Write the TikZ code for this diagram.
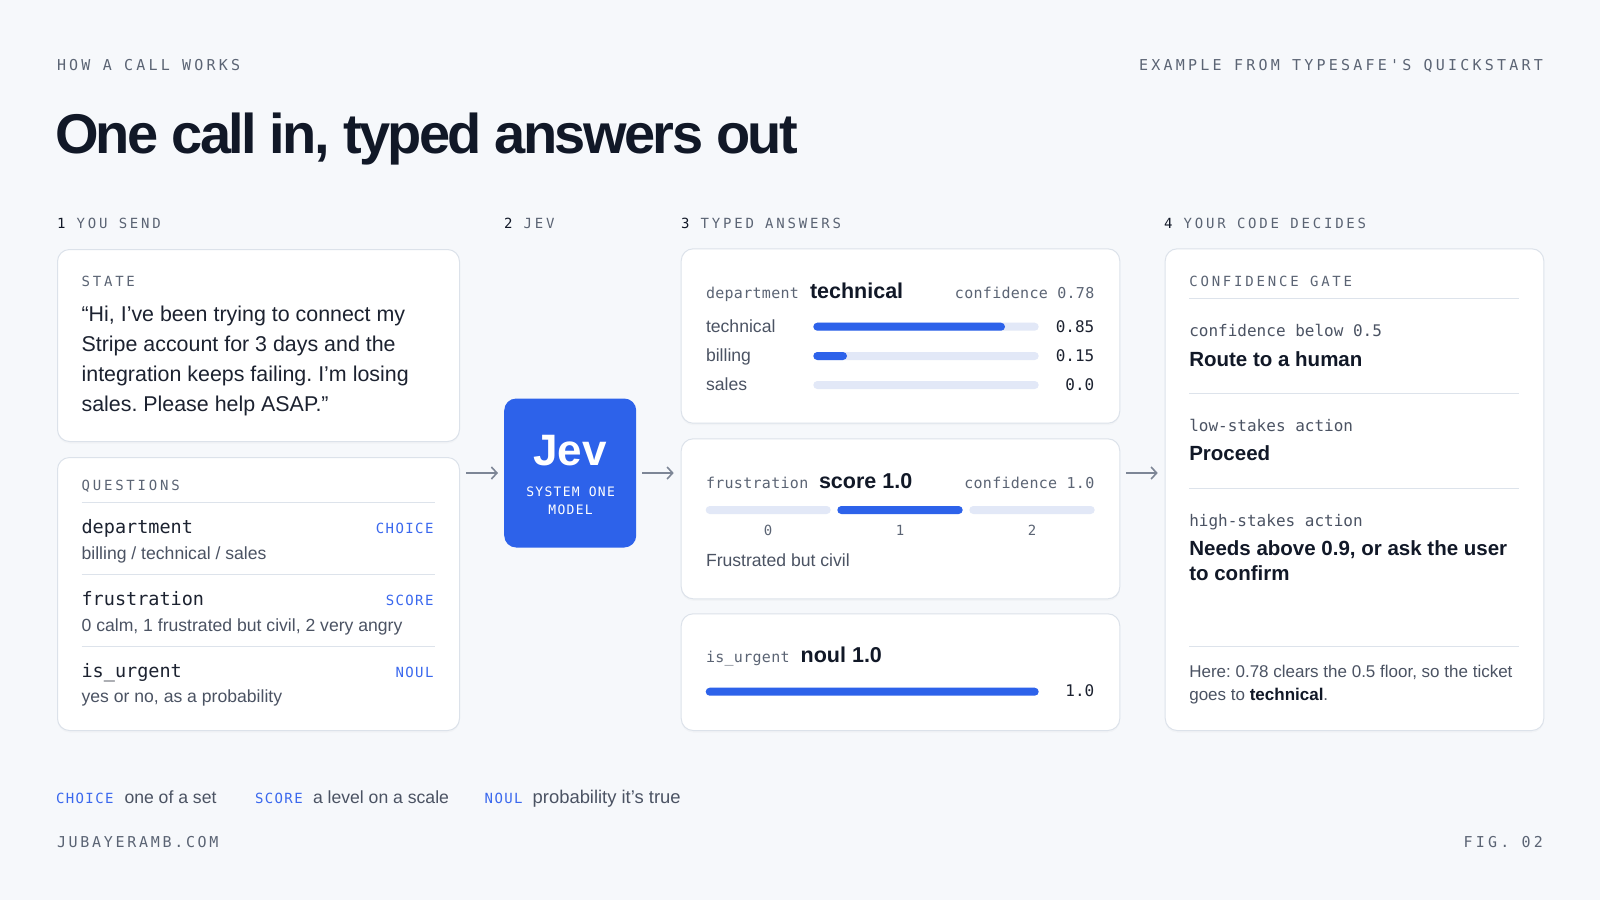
\documentclass[tikz,border=0pt]{standalone}
\usepackage{fontspec}
\setmainfont{Liberation Sans}
\newfontfamily\titlef[LetterSpace=-4.7]{Liberation Sans}
\newfontfamily\monoW[LetterSpace=21.5,Ligatures=TeXOff]{DejaVu Sans Mono}
\newfontfamily\monoF[LetterSpace=18,Ligatures=TeXOff]{DejaVu Sans Mono}
\newfontfamily\monoSec[LetterSpace=20,Ligatures=TeXOff]{DejaVu Sans Mono}
\newfontfamily\monoTag[LetterSpace=10,Ligatures=TeXOff]{DejaVu Sans Mono}
\newfontfamily\monoT[LetterSpace=2,Ligatures=TeXOff]{DejaVu Sans Mono}
\newfontfamily\monoN[Ligatures=TeXOff]{DejaVu Sans Mono}
\usetikzlibrary{shadows,arrows.meta}
\newcommand\fs[1]{\fontsize{#1}{#1}\selectfont}
\definecolor{bg}{HTML}{F6F8FB}
\definecolor{ink}{HTML}{111827}
\definecolor{txtdark}{HTML}{1C2230}
\definecolor{graylab}{HTML}{5B6474}
\definecolor{graytxt}{HTML}{4B5363}
\definecolor{rulec}{HTML}{DDE3EB}
\definecolor{cardline}{HTML}{DCE2EA}
\definecolor{accentblue}{HTML}{2D62EA}
\definecolor{tagblue}{HTML}{3A68EE}
\definecolor{track}{HTML}{E2E8F7}
\definecolor{arrowgray}{HTML}{7D8696}
\frenchspacing
\begin{document}
\begin{tikzpicture}[x=1pt,y=-1pt,
  txt/.style={anchor=base west,inner sep=0pt,outer sep=0pt},
  txtr/.style={anchor=base east,inner sep=0pt,outer sep=0pt},
  txtc/.style={anchor=base,inner sep=0pt,outer sep=0pt},
  card/.style={anchor=north west,draw=cardline,line width=1pt,fill=white,rounded corners=12pt,inner sep=0pt,
    drop shadow={shadow xshift=0pt,shadow yshift=-2pt,opacity=0.04}},
  kick/.style={font=\monoW\fs{15},text=graylab},
  sec/.style={font=\monoSec\fs{14},text=graylab},
  field/.style={font=\monoN\fs{18.5},text=txtdark},
  tag/.style={font=\monoTag\fs{14},text=tagblue},
  desc/.style={font=\frenchspacing\fs{17.6},text=graytxt},
  quote/.style={font=\frenchspacing\fs{21.4},text=txtdark},
  small/.style={font=\monoT\fs{15},text=graylab},
  val/.style={font=\monoN\fs{16},text=txtdark},
  head/.style={font=\bfseries\fs{21.5},text=ink},
  gatehead/.style={font=\bfseries\fs{20.5},text=ink},
  gatelab/.style={font=\monoN\fs{16},text=graytxt},
  rule/.style={draw=rulec,line width=1pt},
  arr/.style={draw=arrowgray,line width=1.6pt,-{Straight Barb[length=5.5pt,width=12pt]}},
]
\useasboundingbox (0,0) rectangle (1600,900);
\fill[bg] (0,0) rectangle (1600,900);

% header
\node[txt,kick] (kicker) at (57,70.5) {HOW A CALL WORKS};
\node[txtr,kick] (source) at (1543,70.5) {EXAMPLE FROM TYPESAFE'S QUICKSTART};
\node[txt,font=\titlef\bfseries\fs{56},text=ink] (title) at (55,153) {One call in, typed answers out};

% section labels
\node[txt,sec] (s1) at (57,228) {\textcolor{ink}{1} YOU SEND};
\node[txt,sec] (s2) at (504,228) {\textcolor{ink}{2} JEV};
\node[txt,sec] (s3) at (681,228) {\textcolor{ink}{3} TYPED ANSWERS};
\node[txt,sec] (s4) at (1164,228) {\textcolor{ink}{4} YOUR CODE DECIDES};

% state card
\node[card,minimum width=402,minimum height=192] (state) at (57,249) {};
\node[txt,sec] (statelab) at (81.6,286.5) {STATE};
\node[txt,quote] (q1) at (81.6,321.7) {“Hi, I’ve been trying to connect my};
\node[txt,quote] (q2) at (81.6,351.7) {Stripe account for 3 days and the};
\node[txt,quote] (q3) at (81.6,381.7) {integration keeps failing. I’m losing};
\node[txt,quote] (q4) at (81.6,411.7) {sales. Please help ASAP.”};

% questions card
\node[card,minimum width=402,minimum height=273] (qcard) at (57,457) {};
\node[txt,sec] (qlab) at (81.6,490.7) {QUESTIONS};
\draw[rule] (81.6,502.3) -- (435,502.3);
\node[txt,field] (f1) at (81.6,533.3) {department};
\node[txtr,tag] (t1) at (433.5,533.3) {CHOICE};
\node[txt,desc] (d1) at (81.6,559) {billing / technical / sales};
\draw[rule] (81.6,574.3) -- (435,574.3);
\node[txt,field] (f2) at (81.6,605) {frustration};
\node[txtr,tag] (t2) at (433.5,605) {SCORE};
\node[txt,desc] (d2) at (81.6,631.7) {0 calm, 1 frustrated but civil, 2 very angry};
\draw[rule] (81.6,646.7) -- (435,646.7);
\node[txt,field] (f3) at (81.6,677.3) {is\_urgent};
\node[txtr,tag] (t3) at (433.5,677.3) {NOUL};
\node[txt,desc] (d3) at (81.6,702.3) {yes or no, as a probability};

% Jev box
\node[anchor=north west,fill=accentblue,rounded corners=12pt,minimum width=132,minimum height=149,inner sep=0pt] (jev) at (504,398.3) {};
\node[txtc,font=\bfseries\fs{44},text=white] (jevname) at (570,465) {Jev};
\node[txtc,font=\monoTag\fs{13},text=white] (jevsub1) at (570.6,496) {SYSTEM ONE};
\node[txtc,font=\monoTag\fs{13},text=white] (jevsub2) at (570.6,514) {MODEL};

% typed card 1
\node[card,minimum width=438.6,minimum height=174.4] (tc1) at (680.7,248.3) {};
\node[txt,small] (c1a) at (706,298.3) {department};
\node[txt,head] (c1b) at (810,298.3) {technical};
\node[txtr,small] (c1c) at (1094.3,298.3) {confidence 0.78};
\node[txt,desc] (r1) at (706,332.7) {technical};
\node[txt,desc] (r2) at (706,361.7) {billing};
\node[txt,desc] (r3) at (706,390.7) {sales};
\fill[track,rounded corners=4pt] (813.3,322.7) rectangle (1038.7,330.7);
\fill[accentblue,rounded corners=4pt] (813.3,322.7) rectangle (1005,330.7);
\fill[track,rounded corners=4pt] (813.3,352) rectangle (1038.7,360);
\fill[accentblue,rounded corners=4pt] (813.3,352) rectangle (847,360);
\fill[track,rounded corners=4pt] (813.3,381) rectangle (1038.7,389);
\node[txtr,val] (v1) at (1094.3,332.7) {0.85};
\node[txtr,val] (v2) at (1094.3,361.7) {0.15};
\node[txtr,val] (v3) at (1094.3,390.7) {0.0};

% typed card 2
\node[card,minimum width=438.6,minimum height=160] (tc2) at (680.7,438.3) {};
\node[txt,small] (c2a) at (706,488.3) {frustration};
\node[txt,head] (c2b) at (819,488.3) {score 1.0};
\node[txtr,small] (c2c) at (1094.3,488.3) {confidence 1.0};
\fill[track,rounded corners=4pt] (705.7,506) rectangle (830.7,514);
\fill[accentblue,rounded corners=4pt] (837.3,506) rectangle (962.7,514);
\fill[track,rounded corners=4pt] (969.3,506) rectangle (1094.7,514);
\node[txtc,font=\monoN\fs{14},text=graylab] (k0) at (768.2,535) {0};
\node[txtc,font=\monoN\fs{14},text=graylab] (k1) at (900,535) {1};
\node[txtc,font=\monoN\fs{14},text=graylab] (k2) at (1032,535) {2};
\node[txt,desc] (c2d) at (706,566) {Frustrated but civil};

% typed card 3
\node[card,minimum width=438.6,minimum height=116.7] (tc3) at (680.7,613.3) {};
\node[txt,small] (c3a) at (706,662.3) {is\_urgent};
\node[txt,head] (c3b) at (800.7,662.3) {noul 1.0};
\fill[accentblue,rounded corners=4pt] (705.7,687.7) rectangle (1038.7,695.7);
\node[txtr,val] (v4) at (1094.3,696.7) {1.0};

% gate card
\node[card,minimum width=378.6,minimum height=481.7] (gate) at (1164.7,248.3) {};
\node[txt,sec] (glab) at (1189.3,286.7) {CONFIDENCE GATE};
\draw[rule] (1189.3,298.3) -- (1519,298.3);
\node[txt,gatelab] (g1a) at (1189.3,336.7) {confidence below 0.5};
\node[txt,gatehead] (g1b) at (1189.3,366) {Route to a human};
\draw[rule] (1189.3,393.3) -- (1519,393.3);
\node[txt,gatelab] (g2a) at (1189.3,431.7) {low-stakes action};
\node[txt,gatehead] (g2b) at (1189.3,460) {Proceed};
\draw[rule] (1189.3,488.3) -- (1519,488.3);
\node[txt,gatelab] (g3a) at (1189.3,526.7) {high-stakes action};
\node[txt,gatehead] (g3b) at (1189.3,555) {Needs above 0.9, or ask the user};
\node[txt,gatehead] (g3c) at (1189.3,580) {to confirm};
\draw[rule] (1189.3,646.7) -- (1519,646.7);
\node[txt,font=\fs{17},text=graytxt] (g4a) at (1189.3,677.3) {Here: 0.78 clears the 0.5 floor, so the ticket};
\node[txt,font=\fs{17},text=graytxt] (g4b) at (1189.3,700.7) {goes to \textcolor{ink}{\bfseries technical}.};

% arrows
\draw[arr,shorten <=6pt,shorten >=6pt] (jev.west -| qcard.east) -- (jev.west);
\draw[arr,shorten <=6pt,shorten >=7pt] (jev.east) -- (jev.east -| tc2.west);
\draw[arr,shorten <=6pt,shorten >=7pt] (tc2.east |- jev.east) -- (gate.west |- jev.east);

% legend
\node[txt,tag] (lg1) at (56,803) {CHOICE};
\node[txt,desc] (lg1d) at (124.5,803) {one of a set};
\node[txt,tag] (lg2) at (255,803) {SCORE};
\node[txt,desc] (lg2d) at (313,803) {a level on a scale};
\node[txt,tag] (lg3) at (484.7,803) {NOUL};
\node[txt,desc,font=\fs{18.4}] (lg3d) at (532.7,803) {probability it’s true};

% footer
\node[txt,font=\monoF\fs{15},text=graylab] (site) at (57,847.3) {JUBAYERAMB.COM};
\node[txtr,kick] (fig) at (1543,847.3) {FIG. 02};
\end{tikzpicture}
\end{document}
